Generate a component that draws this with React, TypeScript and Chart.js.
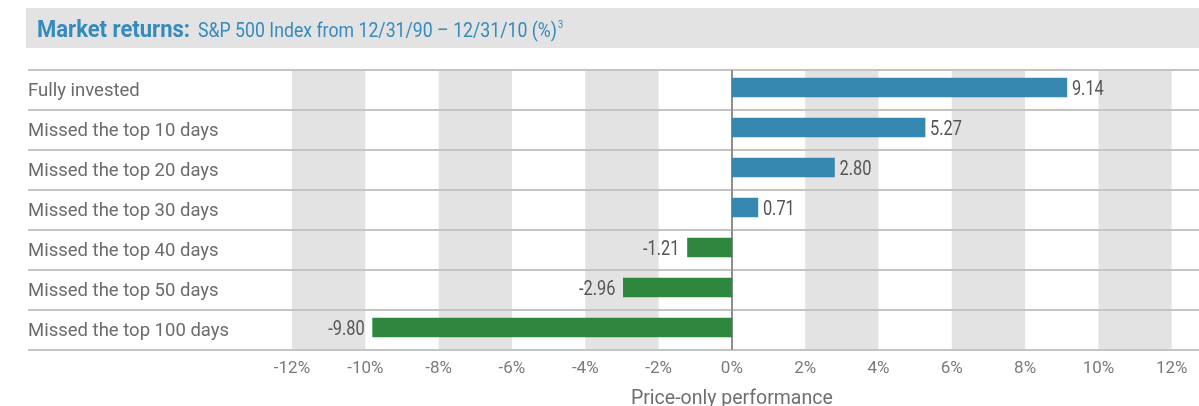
import { useEffect, useRef } from "react";
import { Chart, registerables } from "chart.js";

Chart.register(...registerables);

// ---- data ----
const categories = [
  "Fully invested",
  "Missed the top 10 days",
  "Missed the top 20 days",
  "Missed the top 30 days",
  "Missed the top 40 days",
  "Missed the top 50 days",
  "Missed the top 100 days",
];
const returns = [9.14, 5.27, 2.8, 0.71, -1.21, -2.96, -9.8];
const xTickValues = [-12, -10, -8, -6, -4, -2, 0, 2, 4, 6, 8, 10, 12];
const titleBold = "Market returns:";
const titleRest = "S&P 500 Index from 12/31/90 \u2013 12/31/10 (%)";
const titleNote = "3";
const axisTitle = "Price-only performance";

// ---- styles ----
const BLUE = "#3688b1";
const GREEN = "#2f863f";
const TITLE_BLUE = "#358bbd";
const BAND = "#e2e3e2";
const ROW_LINE = "#c4c4c4";
const FONT = "Roboto, 'Noto Sans', sans-serif";
const ROW_SHIFT = 2.5; // bars sit slightly above the row centre

function drawCondensed(ctx: any, text: string, x: number, y: number, font: string, width: number | null, sx: number, align: string) {
  ctx.save();
  ctx.font = font;
  ctx.textAlign = align;
  const w = ctx.measureText(text).width;
  const s = width ? width / w : sx;
  ctx.translate(x, y);
  ctx.scale(s, 1);
  ctx.fillText(text, 0, 0);
  ctx.restore();
}

const decorPlugin = {
  id: "decor",
  beforeDraw(chart: any) {
    const { ctx, chartArea, scales } = chart;
    const x = scales.x;
    const top = chartArea.top + ROW_SHIFT;
    const bottom = chartArea.bottom + ROW_SHIFT;
    ctx.save();
    // title band
    ctx.fillStyle = BAND;
    ctx.fillRect(26, 8, chart.width - 26, 40);
    // title text
    ctx.textBaseline = "alphabetic";
    ctx.fillStyle = TITLE_BLUE;
    drawCondensed(ctx, titleBold, 37, 36.5, `bold 24px ${FONT}`, 153, 1, "left");
    drawCondensed(ctx, titleRest, 198, 36.5, `21px ${FONT}`, 359, 1, "left");
    drawCondensed(ctx, titleNote, 558, 28, `11px ${FONT}`, null, 0.85, "left");

    // alternating vertical bands
    for (let i = 0; i < xTickValues.length - 1; i++) {
      const a = xTickValues[i];
      const b = xTickValues[i + 1];
      if (Math.max(Math.abs(a), Math.abs(b)) % 4 === 0) {
        const x0 = x.getPixelForValue(a);
        const x1 = x.getPixelForValue(b);
        ctx.fillStyle = BAND;
        ctx.fillRect(x0, top, x1 - x0, bottom - top);
      }
    }
    // row separators
    const n = categories.length;
    const step = (chartArea.bottom - chartArea.top) / n;
    ctx.strokeStyle = ROW_LINE;
    ctx.lineWidth = 2;
    for (let i = 0; i <= n; i++) {
      const y = Math.round(top + i * step);
      ctx.beginPath();
      ctx.moveTo(28, y);
      ctx.lineTo(chart.width, y);
      ctx.stroke();
    }
    // zero line
    const x0 = Math.round(x.getPixelForValue(0));
    ctx.strokeStyle = "#8f8f8f";
    ctx.lineWidth = 2;
    ctx.beginPath();
    ctx.moveTo(x0, top);
    ctx.lineTo(x0, bottom);
    ctx.stroke();
    ctx.restore();
  },
  afterDatasetsDraw(chart: any) {
    const { ctx } = chart;
    const meta = chart.getDatasetMeta(0);
    ctx.save();
    ctx.fillStyle = "#555555";
    ctx.textBaseline = "middle";
    meta.data.forEach((bar: any, i: number) => {
      const v = returns[i];
      const t = v.toFixed(2);
      if (v >= 0) {
        drawCondensed(ctx, t, bar.x + 5, bar.y + 2, `21px ${FONT}`, null, 0.78, "left");
      } else {
        drawCondensed(ctx, t, bar.x - 8, bar.y + 2, `21px ${FONT}`, null, 0.78, "right");
      }
    });
    ctx.restore();
  },
};

export default function App() {
  const ref = useRef<HTMLCanvasElement | null>(null);

  useEffect(() => {
    if (!ref.current) return;
    const chart = new Chart(ref.current, {
      type: "bar",
      data: {
        labels: categories,
        datasets: [
          {
            data: returns,
            backgroundColor: returns.map((v) => (v >= 0 ? BLUE : GREEN)),
            borderWidth: 0,
            barThickness: 19,
          },
        ],
      },
      options: {
        indexAxis: "y",
        animation: false,
        responsive: false,
        layout: { padding: { left: 28, right: 27, top: 70 - ROW_SHIFT, bottom: 0 } },
        plugins: { legend: { display: false }, tooltip: { enabled: false }, title: { display: false } },
        scales: {
          x: {
            type: "linear",
            min: -12,
            max: 12,
            afterBuildTicks: (scale: any) => {
              scale.ticks = xTickValues.map((v) => ({ value: v }));
            },
            afterFit: (scale: any) => {
              scale.height = 56 + ROW_SHIFT;
            },
            grid: { display: false, drawTicks: false },
            border: { display: false },
            ticks: {
              padding: 9 + ROW_SHIFT,
              color: "#7a7a7a",
              font: { family: FONT, size: 17 },
              maxRotation: 0,
              autoSkip: false,
              callback: (v: any) => `${v}%`,
            },
            title: {
              display: true,
              text: axisTitle,
              color: "#6f6f6f",
              font: { family: FONT, size: 19.5, lineHeight: 0.7 },
              padding: 0,
            },
          },
          y: {
            type: "category",
            offset: true,
            afterFit: (scale: any) => {
              scale.width = 264;
            },
            grid: { display: false, drawTicks: false },
            border: { display: false },
            ticks: {
              crossAlign: "far",
              padding: 0,
              labelOffset: 3.5,
              color: "#6b6b6b",
              font: { family: FONT, size: 18.5 },
            },
          },
        },
      },
      plugins: [decorPlugin],
    } as any);
    return () => chart.destroy();
  }, []);

  return (
    <div style={{ position: "absolute", left: 0, top: 0, width: 1199, height: 406 }}>
      <canvas ref={ref} width={1199} height={406} />
    </div>
  );
}
